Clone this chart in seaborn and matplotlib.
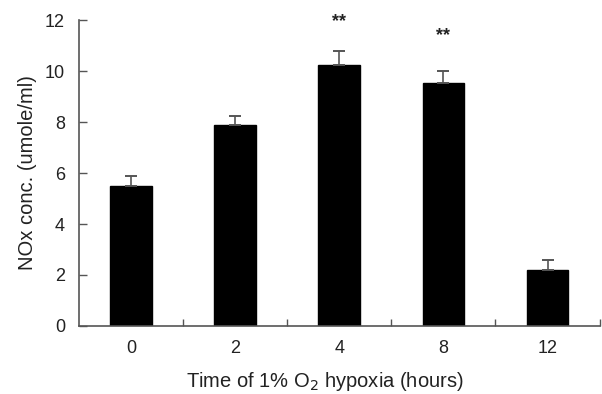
import matplotlib
matplotlib.use("Agg")
import matplotlib.pyplot as plt
import seaborn as sns
import pandas as pd
import numpy as np

categories = ["0", "2", "4", "8", "12"]
values = [5.50, 7.88, 10.22, 9.53, 2.20]
errors = [0.39, 0.37, 0.55, 0.47, 0.38]
stars = ["", "", "**", "**", ""]
yticks = [0, 2, 4, 6, 8, 10, 12]

sns.set_theme(style="white")
plt.rcParams['font.family'] = ['Liberation Sans', 'DejaVu Sans']

df = pd.DataFrame({"time": categories, "nox": values})

fig = plt.figure(figsize=(6.02, 3.94), dpi=100)
ax = fig.add_axes([0.131, 0.1726, 0.865, 0.7766])

sns.barplot(data=df, x="time", y="nox", order=categories, color="black",
            width=0.4, errorbar=None, ax=ax, saturation=1)
for p in ax.patches:
    p.set_edgecolor("black")

x = np.arange(len(categories))
ax.errorbar(x, values, yerr=[np.zeros(len(values)), errors], fmt="none",
            ecolor="#555555", elinewidth=1.2, capsize=4, capthick=1.4, zorder=1)

for xi, v, e, s in zip(x, values, errors, stars):
    if s:
        off = 1.15 if v > 10 else 1.4
        ax.text(xi, v + e + off, s, ha="center", va="center",
                fontsize=13, color="#222222", fontweight="bold")

ax.set_xlim(-0.5, 4.5)
ax.set_ylim(0, 12)
ax.set_yticks(yticks)
ax.set_yticklabels([str(t) for t in yticks])
ax.set_xticks(x)
ax.set_xticklabels(categories)
ax.set_xticks(np.arange(0.5, 4.6, 1.0), minor=True)
ax.tick_params(axis="x", which="major", length=0, labelsize=13, pad=10, colors="#222222")
ax.tick_params(axis="x", which="minor", length=5, direction="in", width=1, color="#555555", bottom=True)
ax.tick_params(axis="y", which="major", length=6, direction="in", width=1, color="#555555",
               labelsize=13, pad=10, left=True, labelcolor="#222222")

sns.despine(ax=ax)
for side in ["left", "bottom"]:
    ax.spines[side].set_color("#555555")
    ax.spines[side].set_linewidth(1.2)

ax.set_ylabel("NOx conc. (umole/ml)", fontsize=14.5, color="#222222", labelpad=6)
ax.set_xlabel("Time of 1% O$_2$ hypoxia (hours)", fontsize=14.5, color="#222222")
ax.xaxis.set_label_coords(0.473, -0.143)

fig.savefig("out.png", dpi=100)
